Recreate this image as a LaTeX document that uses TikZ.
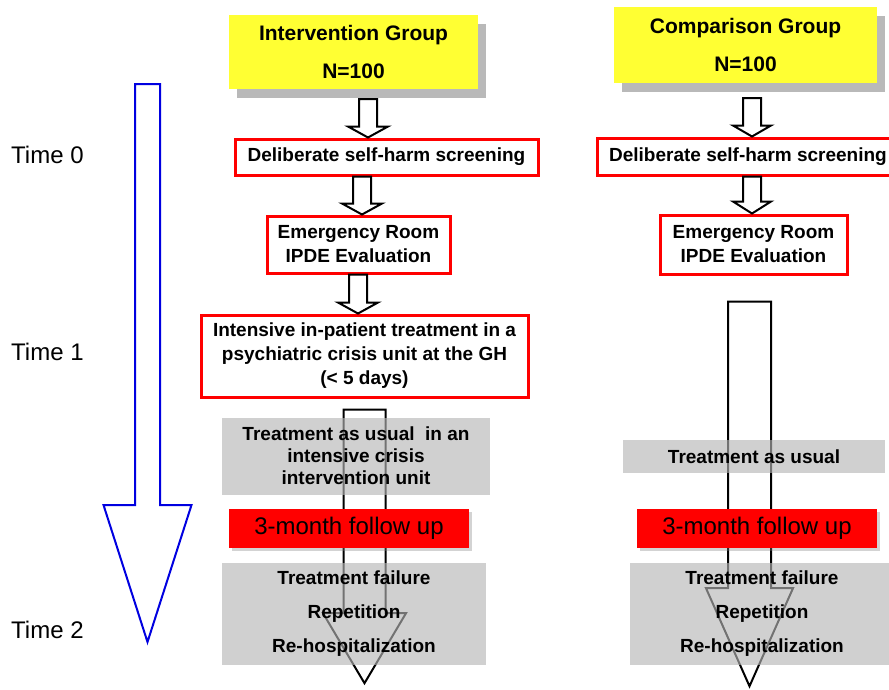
\documentclass[tikz,border=0pt]{standalone}
\usepackage{fontspec}
\setmainfont{Liberation Sans}
\usetikzlibrary{
arrows.meta,
positioning,
calc,
backgrounds,
shadows
}
\definecolor{GroupYellow}{HTML}{FFFF33}
\definecolor{BoxRed}{HTML}{FF0000}
\definecolor{TimeBlue}{HTML}{0000E0}
\definecolor{ShadeGray}{HTML}{B9B9B9}
\definecolor{PanelGray}{HTML}{B5B5B5}
% block arrow: [style]{start}{tip}{half shaft}{half head}{head length}
\newcommand{\blockarrow}[6][]{%
  \draw[#1] let \p1=#2, \p2=#3 in
    (\x1-#4,\y1) -- (\x1-#4,\y2+#6) -- (\x1-#5,\y2+#6) -- (\x1,\y2)
    -- (\x1+#5,\y2+#6) -- (\x1+#4,\y2+#6) -- (\x1+#4,\y1) -- cycle;}

\begin{document}
\begin{tikzpicture}[x=1pt,y=-1pt,every node/.style={align=center, inner sep=0pt},
  group/.style={fill=GroupYellow, font=\fontsize{21}{38}\selectfont\bfseries, drop shadow={shadow xshift=8pt, shadow yshift=-9pt, opacity=1, fill=ShadeGray}},
  screen/.style={draw=BoxRed, line width=3pt, fill=white, font=\fontsize{19}{24}\selectfont\bfseries},
  panel/.style={fill=PanelGray, fill opacity=0.63, text opacity=1, font=\fontsize{19}{22}\selectfont\bfseries},
  followup/.style={fill=BoxRed, font=\fontsize{24}{28}\selectfont, drop shadow={shadow xshift=3pt, shadow yshift=-3pt, opacity=0.35}},
  timelabel/.style={anchor=west, font=\fontsize{24}{28}\selectfont},
  flowarrow/.style={draw=black, line width=2pt, fill=white},
  bigarrow/.style={draw=black, line width=2pt},
  timearrow/.style={draw=TimeBlue, line width=2pt}]
  \useasboundingbox (0,0) rectangle (889,689);
  \clip (0,0) rectangle (889,689);

  % time axis
  \node[timelabel] (t0) at (11,155) {Time 0};
  \node[timelabel] (t1) at (11,352) {Time 1};
  \node[timelabel] (t2) at (11,630) {Time 2};
  \coordinate (tTop) at (147.5,84);
  \coordinate (tTip) at (147.5,642);
  \blockarrow[timearrow]{(tTop)}{(tTip)}{12.5}{44}{137}

  % intervention group
  \node[group, minimum width=249pt, minimum height=74pt] (grpI) at (353.5,52) {Intervention Group\\N=100};
  \node[screen, minimum width=303pt, minimum height=36pt] (scrI) at (386.5,157) {Deliberate self-harm screening};
  \node[screen, minimum width=183pt, minimum height=57pt] (erI) at (358.5,244.5) {Emergency Room\\IPDE Evaluation};
  \node[screen, minimum width=327pt, minimum height=82pt] (intI) at (364.5,356) {Intensive in-patient treatment in a\\psychiatric crisis unit at the GH\\(< 5 days)};
  \node[panel, minimum width=268pt, minimum height=77pt] (tauI) at (356,456) {Treatment as usual~ in an\\intensive crisis\\intervention unit};
  \node[followup, minimum width=240pt, minimum height=39pt] (fuI) at (349,528.5) {3-month follow up};
  \node[panel, minimum width=264pt, minimum height=102pt, font=\fontsize{19}{34}\selectfont\bfseries] (outI) at (354,614) {Treatment failure\\Repetition\\Re-hospitalization};

  % comparison group
  \node[group, minimum width=263pt, minimum height=76pt] (grpC) at (745.5,45) {Comparison Group\\N=100};
  \node[screen, minimum width=302pt, minimum height=37pt] (scrC) at (748,156.5) {Deliberate self-harm screening};
  \node[screen, minimum width=187pt, minimum height=59pt] (erC) at (753.5,244.5) {Emergency Room\\IPDE Evaluation};
  \node[panel, minimum width=262pt, minimum height=33pt] (tauC) at (754,456.5) {Treatment as usual};
  \node[followup, minimum width=240pt, minimum height=39pt] (fuC) at (757,528.5) {3-month follow up};
  \node[panel, minimum width=264pt, minimum height=102pt, font=\fontsize{19}{34}\selectfont\bfseries] (outC) at (762,614) {Treatment failure\\Repetition\\Re-hospitalization};

  % step arrows
  \blockarrow[flowarrow]{($(grpI.south)+(14.5,10)$)}{(scrI.north)}{9}{20}{11}
  \blockarrow[flowarrow]{($(scrI.south)+(-24.5,0)$)}{(erI.north)}{9}{20}{11}
  \blockarrow[flowarrow]{($(erI.south)+(-0.5,0)$)}{(intI.north)}{9}{20}{11}
  \blockarrow[flowarrow]{($(grpC.south)+(6.5,15)$)}{(scrC.north)}{9}{19}{11}
  \blockarrow[flowarrow]{($(scrC.south)+(4,0)$)}{(erC.north)}{9}{19}{12}
  \begin{scope}[on background layer]
    \blockarrow[bigarrow]{($(intI.south)+(0,11)$)}{($(outI.south)+(9,18)$)}{21}{41.5}{70}
    \blockarrow[bigarrow]{($(erC.south)+(-4,26)$)}{($(outC.south)+(0,21)$)}{21.5}{43.5}{98}
  \end{scope}
\end{tikzpicture}
\end{document}
